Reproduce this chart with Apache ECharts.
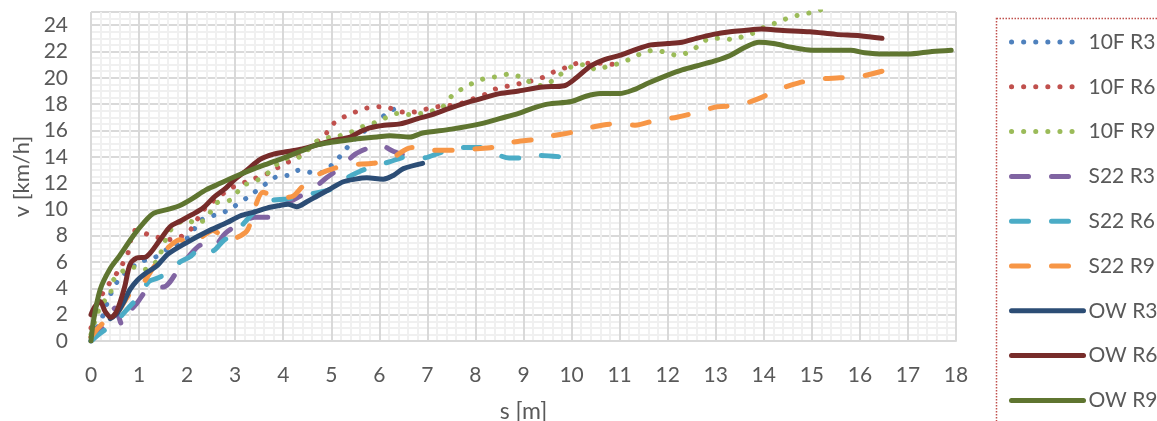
<!DOCTYPE html>
<html>
<head>
<meta charset="utf-8">
<script src="https://cdn.jsdelivr.net/npm/echarts@6/dist/echarts.min.js"></script>
<style>
  html, body { margin: 0; padding: 0; background: #fff; }
  #chart { width: 1157px; height: 421px; }
</style>
</head>
<body>
<div id="chart"></div>
<script>
// series names (legend order)
var names = ['10F R3', '10F R6', '10F R9', 'S22 R3', 'S22 R6', 'S22 R9', 'OW R3', 'OW R6', 'OW R9'];

// [s (m), v (km/h)]
var f10R3 = [[0,0.3],[0.2,1.5],[0.4,3.5],[0.6,4.8],[0.8,5.4],[1.0,6.0],[1.3,6.3],[1.6,7.0],[2.0,7.8],[2.3,9.2],[2.6,9.6],[2.83,9.9],[3.25,10.9],[3.66,12.0],[3.87,12.5],[4.1,12.6],[4.35,13.0],[4.6,12.8],[4.83,12.8],[5.04,13.5],[5.2,14.1],[5.4,15.0],[5.6,15.7],[5.9,16.5],[6.16,17.3],[6.4,17.8]];
var f10R6 = [[0,1.0],[0.15,3.0],[0.35,4.2],[0.6,5.5],[0.77,6.7],[0.9,8.4],[1.1,8.2],[1.37,7.9],[1.6,7.7],[1.85,7.9],[2.06,8.4],[2.33,9.9],[2.54,10.6],[2.75,11.2],[2.96,11.7],[3.3,12.2],[3.66,12.7],[3.9,13.2],[4.3,14.0],[4.6,14.8],[4.9,15.8],[5.04,16.5],[5.25,17.0],[5.5,17.4],[5.74,17.7],[6.0,17.8],[6.22,17.7],[6.47,17.4],[6.7,17.4],[6.95,17.6],[7.2,17.8],[7.47,17.9],[7.74,18.1],[7.95,18.4],[8.24,18.8],[8.45,19.2],[8.72,19.4],[8.97,19.6],[9.2,19.8],[9.45,20.1],[9.66,20.5],[9.9,20.8],[10.13,21.1],[10.38,21.1],[10.65,21.1],[10.9,21.0]];
var f10R9 = [[0,0.5],[0.19,2.6],[0.4,3.6],[0.46,4.6],[0.7,5.4],[0.88,5.6],[1.08,5.4],[1.37,6.1],[1.65,8.4],[2.0,9.2],[2.2,8.9],[2.41,9.4],[2.62,10.5],[2.89,10.7],[3.17,11.8],[3.45,12.2],[3.66,12.7],[4.0,13.8],[4.35,14.0],[4.7,15.2],[5.0,15.5],[5.18,15.6],[5.43,15.9],[5.66,16.3],[5.91,16.6],[6.16,17.0],[6.39,17.3],[6.64,17.2],[6.89,17.3],[7.12,17.5],[7.32,17.8],[7.53,18.7],[7.74,19.2],[7.95,19.6],[8.24,20.0],[8.47,20.1],[8.72,20.3],[8.97,20.0],[9.18,19.6],[9.4,19.4],[9.61,19.8],[9.82,20.4],[10.03,20.9],[10.28,21.0],[10.53,20.6],[10.76,20.9],[11.0,21.1],[11.26,21.5],[11.49,21.9],[11.74,22.1],[11.98,21.9],[12.21,21.7],[12.46,22.0],[12.67,22.5],[12.88,23.0],[13.13,23.0],[13.36,22.9],[13.6,23.2],[13.86,23.5],[14.07,24.0],[14.3,24.2],[14.54,24.6],[14.79,24.8],[15.03,25.0],[15.3,25.3]];
var s22R3 = [[0,0],[0.2,0.8],[0.4,2.0],[0.5,2.5],[0.58,1.8],[0.65,1.2],[0.8,2.2],[0.96,2.9],[1.25,4.1],[1.5,4.1],[1.85,5.6],[2.1,6.7],[2.3,7.3],[2.5,7.0],[2.8,8.2],[3.1,8.9],[3.4,9.4],[3.7,9.4],[4.0,10.3],[4.3,10.9],[4.6,11.5],[4.9,12.4],[5.2,13.2],[5.5,14.2],[5.8,14.7],[6.0,14.9],[6.3,14.4],[6.6,14.0]];
var s22R6 = [[0,0],[0.2,0.6],[0.35,1.0],[0.55,1.6],[0.8,2.6],[1.0,3.4],[1.2,4.5],[1.4,4.8],[1.6,5.2],[1.85,6.0],[2.06,6.4],[2.3,7.1],[2.5,6.8],[2.75,7.6],[3.04,8.4],[3.37,9.7],[3.66,10.6],[4.1,10.8],[4.45,11.1],[4.97,11.5],[5.33,12.4],[5.6,12.9],[5.9,13.3],[6.2,13.6],[6.58,14.0],[6.9,13.9],[7.26,14.3],[7.7,14.7],[8.1,14.7],[8.3,14.4],[8.5,14.1],[8.7,13.9],[8.93,13.9],[9.34,14.1],[9.76,14.0]];
var s22R9 = [[0,0.3],[0.15,1.0],[0.3,1.5],[0.47,1.8],[0.6,2.4],[0.81,3.6],[1.02,4.1],[1.3,5.6],[1.5,6.7],[1.7,7.4],[1.85,7.7],[2.06,7.4],[2.3,7.9],[2.54,8.4],[2.83,7.7],[3.0,7.8],[3.25,8.4],[3.37,9.7],[3.58,11.3],[3.75,11.1],[3.97,10.9],[4.2,11.0],[4.39,11.7],[4.7,12.6],[5.04,13.1],[5.43,13.4],[5.87,13.5],[6.26,13.9],[6.68,14.7],[7.1,14.5],[7.6,14.5],[8.0,14.6],[8.34,14.7],[8.76,15.1],[9.2,15.3],[9.61,15.6],[10.07,15.9],[10.49,16.3],[10.9,16.5],[11.32,16.4],[11.78,16.8],[12.19,17.0],[12.63,17.4],[13.03,17.8],[13.46,17.9],[13.88,18.4],[14.3,19.1],[14.71,19.6],[15.13,19.9],[15.58,20.0],[16.0,20.1],[16.46,20.5]];
var owR3 = [[0.4,1.7],[0.54,2.1],[0.7,3.1],[0.81,3.9],[0.96,4.6],[1.16,5.2],[1.37,5.7],[1.6,6.6],[2.0,7.5],[2.41,8.3],[2.83,9.0],[3.1,9.5],[3.4,9.8],[3.66,10.1],[3.93,10.3],[4.1,10.4],[4.28,10.2],[4.5,10.6],[4.7,11.0],[5.0,11.6],[5.25,12.1],[5.5,12.3],[5.74,12.4],[6.08,12.3],[6.3,12.6],[6.5,13.1],[6.9,13.5]];
var owR6 = [[0,2.0],[0.08,2.6],[0.19,3.0],[0.3,2.2],[0.42,1.8],[0.54,2.3],[0.7,4.1],[0.81,5.8],[0.95,6.3],[1.15,6.4],[1.44,7.7],[1.65,8.7],[1.85,9.1],[2.1,9.6],[2.33,10.1],[2.55,10.9],[2.8,11.6],[3.0,12.3],[3.25,13.0],[3.52,13.8],[3.8,14.2],[4.1,14.4],[4.4,14.6],[4.7,14.9],[5.0,15.2],[5.39,15.5],[5.6,15.9],[5.8,16.2],[6.1,16.4],[6.43,16.5],[6.8,16.9],[7.1,17.2],[7.47,17.7],[7.8,18.1],[8.1,18.4],[8.5,18.8],[8.9,19.0],[9.4,19.3],[9.85,19.4],[10.1,20.0],[10.4,20.9],[10.7,21.4],[11.0,21.7],[11.3,22.1],[11.65,22.5],[12.0,22.6],[12.3,22.7],[12.6,23.0],[12.95,23.3],[13.3,23.5],[13.6,23.6],[13.95,23.7],[14.4,23.6],[14.96,23.5],[15.5,23.3],[16.0,23.2],[16.46,23.0]];
var owR9 = [[0,0],[0.05,1.5],[0.19,3.9],[0.4,5.5],[0.6,6.5],[0.88,8.0],[1.1,9.0],[1.3,9.7],[1.6,10.0],[1.85,10.3],[2.1,10.8],[2.4,11.5],[2.7,12.0],[3.0,12.5],[3.4,13.1],[3.7,13.5],[4.0,13.9],[4.35,14.4],[4.7,14.9],[5.0,15.1],[5.4,15.3],[5.95,15.5],[6.22,15.6],[6.64,15.5],[6.9,15.8],[7.5,16.1],[8.1,16.5],[8.5,16.9],[8.9,17.3],[9.2,17.7],[9.5,18.0],[10.0,18.2],[10.3,18.6],[10.6,18.8],[11.0,18.8],[11.3,19.1],[11.6,19.6],[12.0,20.2],[12.3,20.6],[12.7,21.0],[13.0,21.3],[13.3,21.7],[13.6,22.3],[13.9,22.7],[14.2,22.6],[14.6,22.3],[15.0,22.1],[15.4,22.1],[15.8,22.1],[16.1,21.9],[16.5,21.8],[17.0,21.8],[17.5,22.0],[17.9,22.1]];

var seriesData = [f10R3, f10R6, f10R9, s22R3, s22R6, s22R9, owR3, owR6, owR9];
var colors = ['#4F81BD', '#C0504D', '#9BBB59', '#8064A2', '#4BACC6', '#F79646', '#2C4D75', '#772C2A', '#5F7530'];
var styles = ['dot', 'dot', 'dot', 'dash', 'dash', 'dash', 'solid', 'solid', 'solid'];

var font = 'Lato, "Open Sans", sans-serif';
var txt = '#595959';
var fs = 21;

var myChart = echarts.init(document.getElementById('chart'));

function lineStyleOf(i) {
    var ls = { color: colors[i], width: 5, cap: 'round', join: 'round', type: 'solid' };
    if (styles[i] === 'dot') { ls.type = [0.1, 12]; }
    if (styles[i] === 'dash') { ls.type = [17, 23]; }
    return ls;
}

var series = names.map(function (n, i) {
    return {
        name: n,
        type: 'line',
        smooth: 0.3,
        symbol: 'none',
        color: colors[i],
        lineStyle: lineStyleOf(i),
        data: seriesData[i]
    };
});

// legend entries: line only, no symbol
var legendData = names.map(function (n, i) {
    return { name: n, itemStyle: { opacity: 0 }, lineStyle: lineStyleOf(i) };
});

option = {
    animation: false,
    backgroundColor: '#fff',
    grid: { left: 91, right: 201, top: 12, bottom: 80, containLabel: false, outerBoundsMode: 'none' },
    legend: {
        orient: 'vertical',
        left: 1009,
        top: 31.5,
        padding: 0,
        itemWidth: 72,
        itemHeight: 14,
        itemGap: 23.8,
        data: legendData,
        textStyle: { fontFamily: font, fontSize: fs, color: txt, lineHeight: 21 }
    },
    graphic: [{ //legend frame (red dotted)
        type: 'rect',
        shape: { x: 996.5, y: 18.5, width: 300, height: 500 },
        style: { fill: null, stroke: '#C0504D', lineWidth: 1.5, lineDash: [1.5, 1.5] },
        silent: true
    }],
    xAxis: {
        type: 'value',
        min: 0, max: 18, interval: 1,
        name: 's [m]',
        nameLocation: 'middle',
        nameGap: 59,
        nameTextStyle: { fontFamily: font, fontSize: 23, color: txt },
        axisLine: { lineStyle: { color: '#d9d9d9', width: 2 } },
        axisTick: { show: false },
        axisLabel: { fontFamily: font, fontSize: fs, color: txt, margin: 24 },
        splitLine: { lineStyle: { color: '#d9d9d9', width: 2 } },
        minorTick: { show: false, splitNumber: 5 },
        minorSplitLine: { show: true, lineStyle: { color: '#f0f0f0', width: 2 } }
    },
    yAxis: {
        type: 'value',
        min: 0, max: 25, interval: 2,
        name: 'v [km/h]',
        nameLocation: 'middle',
        nameGap: 40,
        nameTextStyle: { fontFamily: font, fontSize: 22, color: txt },
        axisLine: { show: false },
        axisTick: { show: false },
        axisLabel: { fontFamily: font, fontSize: fs, color: txt, margin: 23, showMaxLabel: false },
        splitLine: { lineStyle: { color: '#d9d9d9', width: 2 } },
        minorTick: { show: false, splitNumber: 4 },
        minorSplitLine: { show: true, lineStyle: { color: '#f0f0f0', width: 2 } }
    },
    series: series
};

myChart.setOption(option);
</script>
</body>
</html>
